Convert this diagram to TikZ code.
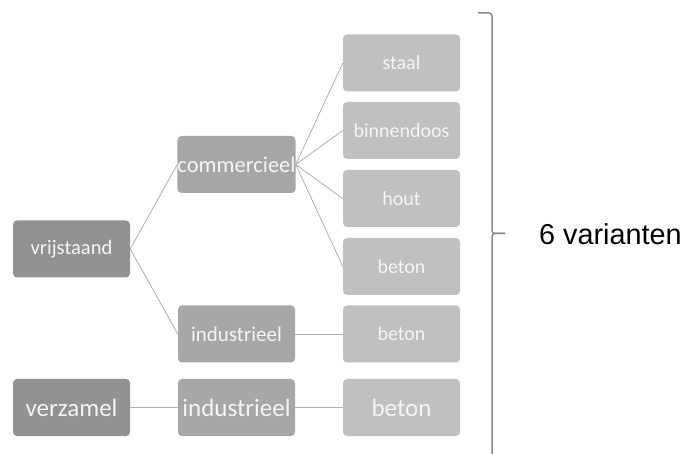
\documentclass[tikz,border=0pt]{standalone}
\usepackage{fontspec}
\setmainfont{Carlito}
\newfontfamily\arialfont{Liberation Sans}
\definecolor{lvA}{RGB}{146,146,146}
\definecolor{lvB}{RGB}{167,167,167}
\definecolor{lvC}{RGB}{192,192,192}
\definecolor{linkc}{RGB}{175,175,175}
\definecolor{bracec}{RGB}{140,140,140}
\definecolor{boxtext}{RGB}{245,245,245}
\begin{document}
\begin{tikzpicture}[x=1pt,y=-1pt,
  box/.style={rounded corners=4pt, minimum width=117pt, minimum height=57pt, inner sep=0pt, text=boxtext, draw=none},
  boxA/.style={box, fill=lvA},
  boxB/.style={box, fill=lvB},
  boxC/.style={box, fill=lvC},
  link/.style={draw=linkc, line width=0.8pt}]
\useasboundingbox (0,0) rectangle (683,454);
% level 1
\node[boxA, font=\fontsize{20.5}{24}\selectfont] (vrij) at (71.5,249) {vrijstaand};
\node[boxA, font=\fontsize{25}{30}\selectfont] (verz) at (71.5,407.5) {verzamel};
% level 2
\node[boxB, font=\fontsize{22.5}{27}\selectfont] (comm) at (236.5,164.5) {commercieel};
\node[boxB, font=\fontsize{21}{25}\selectfont] (ind1) at (236.5,334) {industrieel};
\node[boxB, font=\fontsize{25}{30}\selectfont] (ind2) at (236.5,407.5) {industrieel};
% level 3
\node[boxC, font=\fontsize{20}{24}\selectfont] (staal) at (401.5,63) {staal};
\node[boxC, font=\fontsize{20}{24}\selectfont] (binn) at (401.5,130.5) {binnendoos};
\node[boxC, font=\fontsize{20}{24}\selectfont] (hout) at (401.5,198.5) {hout};
\node[boxC, font=\fontsize{20}{24}\selectfont] (bet1) at (401.5,266.5) {beton};
\node[boxC, font=\fontsize{20}{24}\selectfont] (bet2) at (401.5,334) {beton};
\node[boxC, font=\fontsize{25}{30}\selectfont] (bet3) at (401.5,407.5) {beton};
% links
\draw[link] (vrij.east) -- (comm.west);
\draw[link] (vrij.east) -- (ind1.west);
\draw[link] (comm.east) -- (staal.west);
\draw[link] (comm.east) -- (binn.west);
\draw[link] (comm.east) -- (hout.west);
\draw[link] (comm.east) -- (bet1.west);
\draw[link] (ind1.east) -- (bet2.west);
\draw[link] (verz.east) -- (ind2.west);
\draw[link] (ind2.east) -- (bet3.west);
% brace
\coordinate (btop) at (478,13);
\coordinate (btip) at (505,233.5);
\coordinate (bbot) at (492,470);
\draw[bracec, line width=1.5pt, rounded corners=3pt] (btop) -- (492,13) -- (492,233.5) -- (btip);
\draw[bracec, line width=1.5pt, rounded corners=3pt] (btip) -- (492,233.5) -- (bbot);
\node[anchor=base west, inner sep=0pt, font=\arialfont\fontsize{28.8}{34}\selectfont] (lab) at (539,245) {6 varianten};
\end{tikzpicture}
\end{document}
